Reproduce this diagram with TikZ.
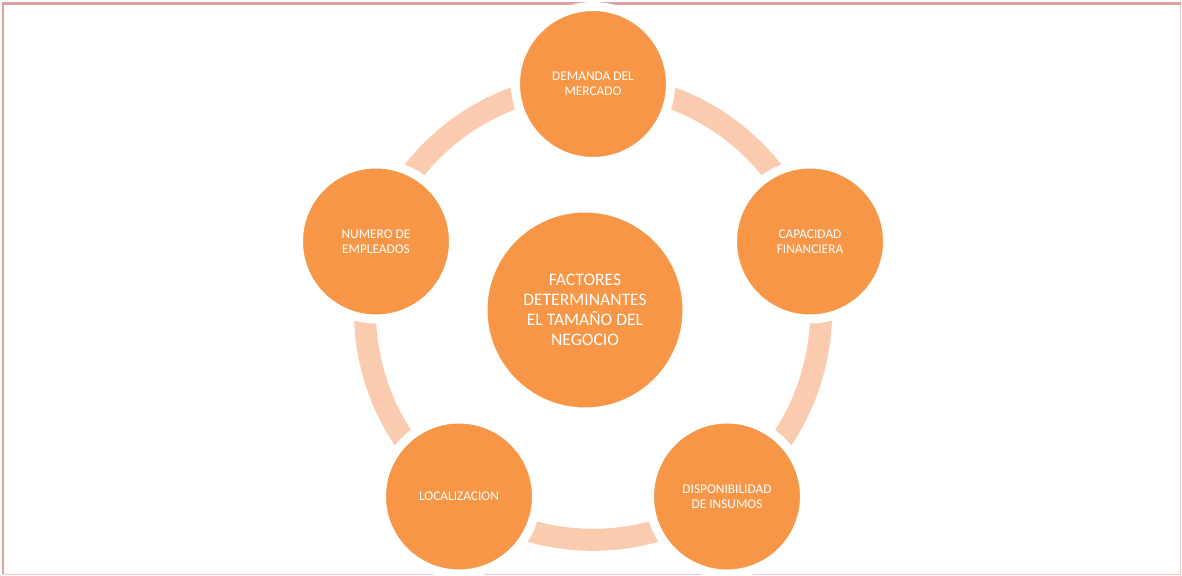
\documentclass[tikz,border=0pt]{standalone}
\usepackage{fontspec}
\setmainfont{Carlito}
\usepackage{xcolor}
\usetikzlibrary{backgrounds}
\definecolor{naranja}{RGB}{247,150,70}
\definecolor{durazno}{RGB}{251,203,176}
\definecolor{marco}{RGB}{226,160,160}
\tikzset{
	factor/.style={circle, fill=naranja, draw=white, line width=0.18cm,
			minimum size=3.10cm, inner sep=0pt, align=center, text=white,
			font=\fontsize{7.6}{8.8}\selectfont},
	nucleo/.style={factor, minimum size=4.08cm,
			font=\fontsize{10}{11.4}\selectfont},
	anillo/.style={draw=durazno, line width=0.44cm, looseness=0.94}
}

\begin{document}
\begin{tikzpicture}
        \useasboundingbox (0,0) rectangle (23.64,11.52);
        \draw[marco!60, line width=0.02cm] (23.61,11.45) -- (23.61,0.03) -- (0.06,0.03);
        \draw[marco, line width=0.05cm] (0.06,0.03) -- (0.06,11.45) -- (23.61,11.45);
        \node[nucleo] (fac) at (11.70,5.32) {FACTORES\\DETERMINANTES\\EL TAMAÑO DEL\\NEGOCIO};
        \node[factor] (dem) at (11.86,9.84) {DEMANDA DEL\\MERCADO};
        \node[factor] (cap) at (16.20,6.69) {CAPACIDAD\\FINANCIERA};
        \node[factor] (ins) at (14.54,1.59) {DISPONIBILIDAD\\DE INSUMOS};
        \node[factor] (loc) at (9.18,1.59) {LOCALIZACION};
        \node[factor] (emp) at (7.52,6.69) {NUMERO DE\\EMPLEADOS};
        \begin{pgfonlayer}{background}
        \draw[anillo] (dem.center) to[bend left=36] (cap.center)
        to[bend left=36] (ins.center) to[bend left=36] (loc.center)
        to[bend left=36] (emp.center) to[bend left=36] (dem.center);
        \end{pgfonlayer}
    \end{tikzpicture}
\end{document}
